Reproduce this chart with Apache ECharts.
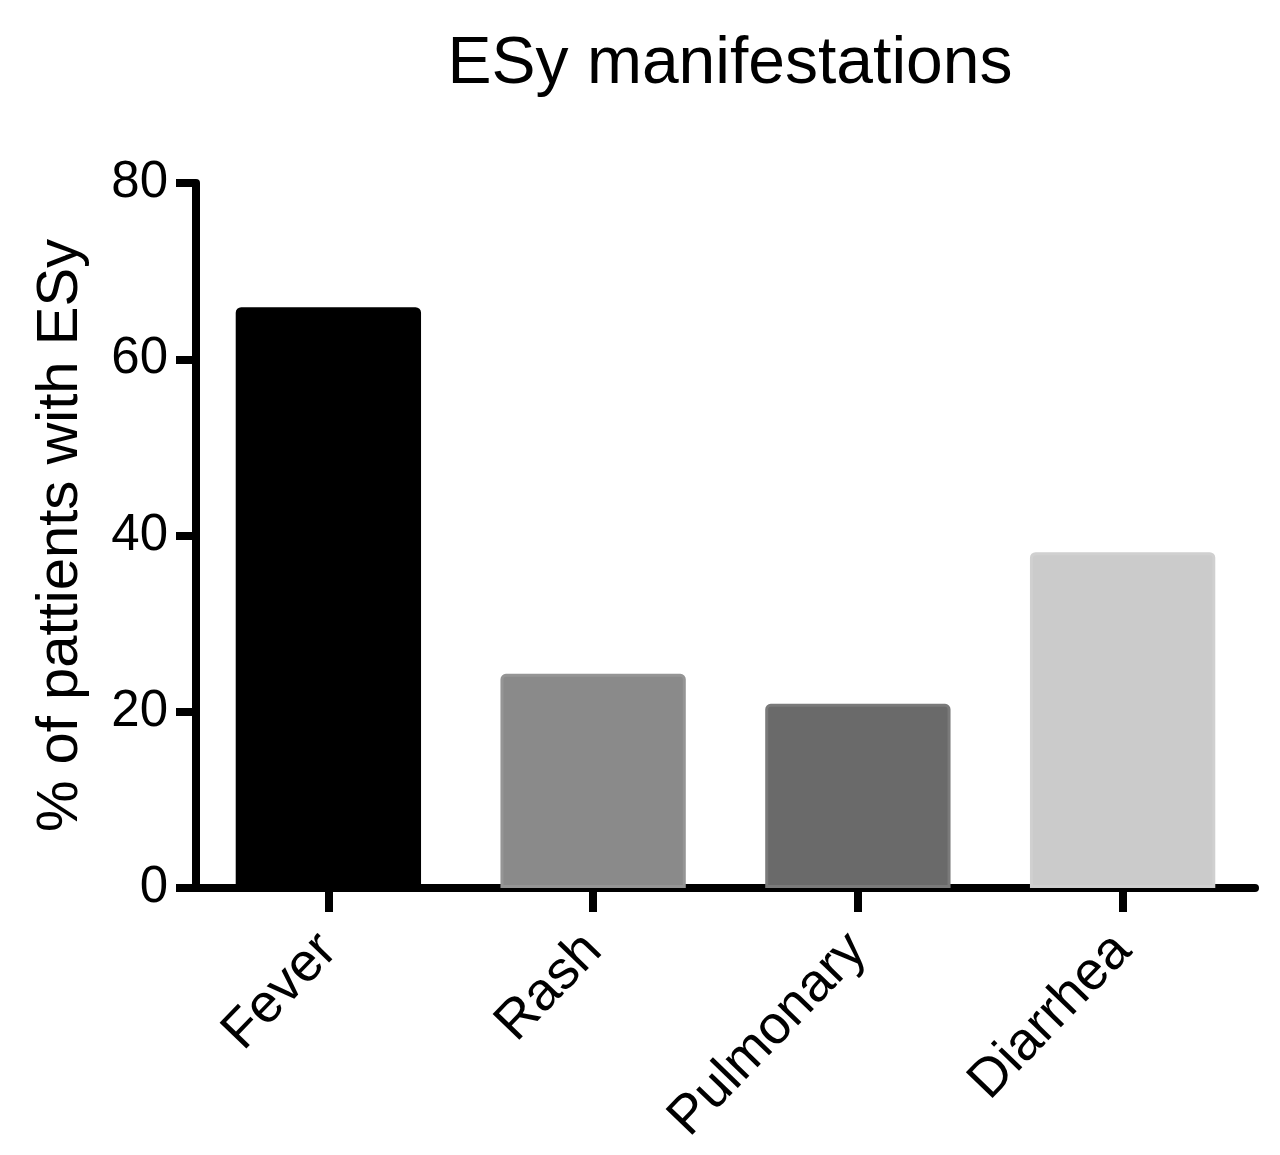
<!DOCTYPE html>
<html>
<head>
<meta charset="utf-8">
<script src="https://cdn.jsdelivr.net/npm/echarts@6/dist/echarts.min.js"></script>
<style>
html,body{margin:0;padding:0;background:#fff;}
#chart{width:1280px;height:1155px;}
</style>
</head>
<body>
<div id="chart"></div>
<script>
const categories = ['Fever', 'Rash', 'Pulmonary', 'Diarrhea'];
const values = [65.9, 24.3, 20.9, 38.1];
const barColors = ['#000000', '#8a8a8a', '#6a6a6a', '#cbcbcb'];
const barBorders = ['#000000', '#959595', '#7a7a7a', '#d0d0d0'];
const yTicks = [0, 20, 40, 60, 80];

const chart = echarts.init(document.getElementById('chart'));
const font = 'Liberation Sans, Arial, Helvetica, sans-serif';
chart.setOption({
  backgroundColor: '#ffffff',
  animation: false,
  title: {
    text: 'ESy manifestations',
    left: 725, top: 27, textAlign: 'center',
    textStyle: {fontFamily: font, fontSize: 66, fontWeight: 'normal', color: '#000'}
  },
  grid: {left: 196, right: 25, top: 183, bottom: 267, containLabel: false},
  xAxis: {
    type: 'category',
    data: categories,
    axisLine: {lineStyle: {color: '#000', width: 8}},
    axisTick: {show: true, alignWithLabel: true, length: 24, lineStyle: {color: '#000', width: 8}},
    axisLabel: {rotate: 46, margin: 54, fontFamily: font, fontSize: 54, color: '#000'},
    splitLine: {show: false}
  },
  yAxis: {
    type: 'value',
    min: yTicks[0], max: yTicks[yTicks.length - 1], interval: 20,
    name: '% of pattients with ESy',
    nameLocation: 'middle',
    nameGap: 106,
    nameTextStyle: {fontFamily: font, fontSize: 58, color: '#000'},
    axisLine: {show: true, lineStyle: {color: '#000', width: 8}},
    axisTick: {show: true, length: 20, lineStyle: {color: '#000', width: 8}},
    axisLabel: {margin: 28, fontFamily: font, fontSize: 51, color: '#000'},
    splitLine: {show: false}
  },
  series: [{
    type: 'bar',
    barWidth: '70%',
    data: values.map((v, i) => ({
      value: v,
      itemStyle: {color: barColors[i], borderColor: barBorders[i], borderWidth: 3, borderRadius: [4, 4, 0, 0]}
    }))
  }]
});
</script>
</body>
</html>
